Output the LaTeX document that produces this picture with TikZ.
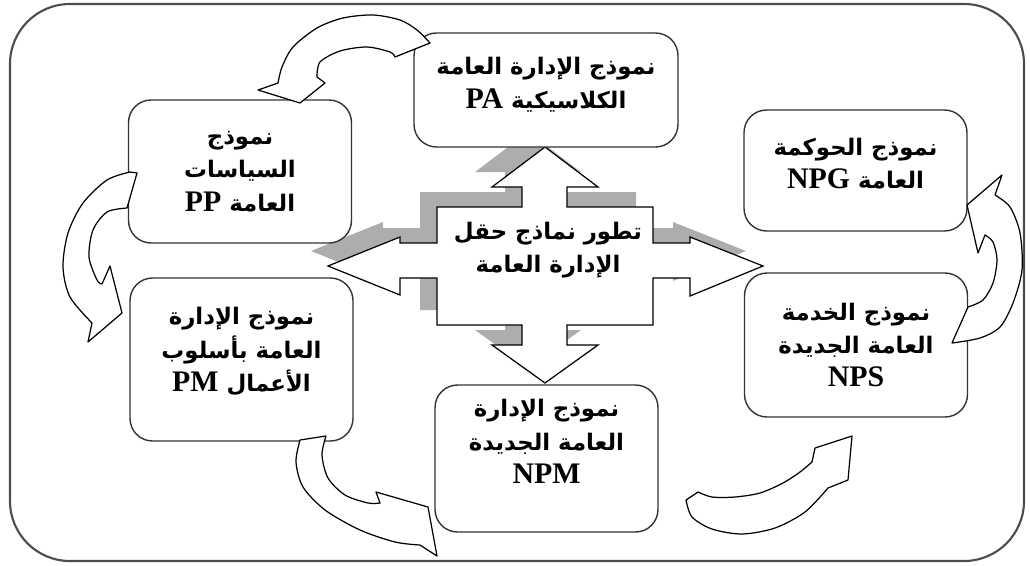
\documentclass[tikz,border=0pt]{standalone}
\usepackage{fontspec}
\setmainfont{Liberation Serif}
\newfontfamily\arabicfont[Script=Arabic]{DejaVu Sans}
\TeXXeTstate=1
\newcommand{\arline}[1]{{\arabicfont\bfseries\beginR #1\endR}}
\newcommand{\lat}[1]{{\rmfamily\bfseries\fontsize{17}{19}\selectfont #1}}
% extra depth under the last line, to lift the text in its box
\newcommand{\lift}[1]{\rule[-#1]{0pt}{#1}}
\definecolor{shadowgray}{gray}{0.68}
\tikzset{
        textnode/.style={align=center,inner sep=0pt,font=\fontsize{13}{19}\selectfont},
        % Model boxes
        model/.style={textnode, rectangle, rounded corners=0.45cm, draw=black!80, line width=0.8pt, fill=white, minimum width=4.46cm},
        % Central cross and its shadow
        cross/.style={draw=black, line width=0.7pt, fill=white},
        cross_shadow/.style={fill=shadowgray},
        % Curved block arrows
        turn/.style={draw=black, line width=0.7pt, fill=white, line join=round},
        % Outer frame
        frame/.style={draw=black!70, line width=1.2pt, rounded corners=1.2cm}
}
\begin{document}
\begin{tikzpicture}[x=0.02cm, y=-0.02cm]
    \useasboundingbox (0,0) rectangle (1030,565);
    \draw[frame] (10,4) rectangle (1024,561);
    % cross arrow, shadow first
    \foreach \dx/\dy/\sty in {-17/-15/cross_shadow, 0/0/cross} {
        \path[\sty, shift={(\dx,\dy)}] (545,147) -- (598,187) -- (567,187) -- (567,207) -- (653,207)
            -- (653,243) -- (690,243) -- (690,237) -- (763,266) -- (690,296) -- (690,278) -- (653,278)
            -- (653,325) -- (567,325) -- (567,345) -- (598,345) -- (545,383) -- (492,345) -- (522,345)
            -- (522,325) -- (437,325) -- (437,278) -- (400,278) -- (400,295) -- (328,266) -- (400,237)
            -- (400,243) -- (437,243) -- (437,207) -- (522,207) -- (522,187) -- (492,187) -- cycle;
    }
    \node[textnode] (core) at (548,250) {\arline{تطور نماذج حقل}\\ \arline{الإدارة العامة}};

    \node[model, minimum width=5.28cm, minimum height=2.28cm] (pa) at (546,90)
        {\arline{نموذج الإدارة العامة}\\ \arline{الكلاسيكية \lat{PA}}\lift{0.28cm}};
    \node[model, minimum height=2.86cm] (pp) at (240,171.5)
        {\arline{نموذج}\\ \arline{السياسات}\\ \arline{العامة \lat{PP}}};
    \node[model, minimum height=3.26cm] (pm) at (241.5,359.5)
        {\arline{نموذج الإدارة}\\ \arline{العامة بأسلوب}\\ \arline{الأعمال \lat{PM}}\lift{0.4cm}};
    \node[model, minimum height=2.94cm] (npm) at (546.5,458.5)
        {\arline{نموذج الإدارة}\\ \arline{العامة الجديدة}\\ \lat{NPM}\lift{0.68cm}};
    \node[model, minimum height=2.88cm] (nps) at (856,345)
        {\arline{نموذج الخدمة}\\ \arline{العامة الجديدة}\\ \lat{NPS}};
    \node[model, minimum height=2.42cm] (npg) at (855.5,170.5)
        {\arline{نموذج الحوكمة}\\ \arline{العامة \lat{NPG}}\lift{0.28cm}};

    % PA to PP
    \draw[turn] (395,57) -- (430,43)
        --plot[smooth] coordinates {(430,43) (417,30) (400,20) (373,15) (343,18) (317,28) (293,47) (282,67) (278,83)}
        -- (258,90) -- (300,103) -- (325,83)
        --plot[smooth] coordinates {(317,77) (320,62) (340,51) (367,47) (390,52) (395,57)} -- cycle;
    % PP to PM
    \draw[turn] (137,173) -- (127,208)
        --plot[smooth] coordinates {(127,208) (107,212) (93,230) (89,257) (97,280) (102,284)}
        -- (110,266) -- (122,313) -- (88,342) -- (92,323)
        --plot[smooth] coordinates {(92,323) (70,297) (63,267) (68,233) (83,203) (107,180) (130,172)} -- cycle;
    % PM to NPM
    \draw[turn] (300,440) -- (326,436)
        --plot[smooth] coordinates {(326,436) (322,455) (328,478) (345,495) (368,503) (380,503)}
        -- (376,492) -- (428,507) -- (437,556) -- (420,545)
        --plot[smooth] coordinates {(420,545) (395,542) (360,530) (325,510) (303,487) (296,462) (300,440)} -- cycle;
    % NPM to NPS
    \draw[turn] (686,500)
        --plot[smooth] coordinates {(686,500) (692,517) (712,529) (742,534) (775,528) (805,512) (828,488)}
        -- (848,480) -- (852,436) -- (815,448) -- (812,462)
        --plot[smooth] coordinates {(812,462) (800,472) (783,483) (760,493) (735,497) (712,497) (698,492)} -- cycle;
    % NPS to NPG
    \draw[turn] (952,343) -- (968,307)
        --plot[smooth] coordinates {(968,307) (983,300) (993,283) (997,260) (993,242) (985,235)}
        -- (978,253) -- (967,205) -- (1002,175) -- (995,195)
        --plot[smooth] coordinates {(995,195) (1010,207) (1020,233) (1022,270) (1013,303) (1000,327) (980,338) (952,343)} -- cycle;
\end{tikzpicture}
\end{document}
